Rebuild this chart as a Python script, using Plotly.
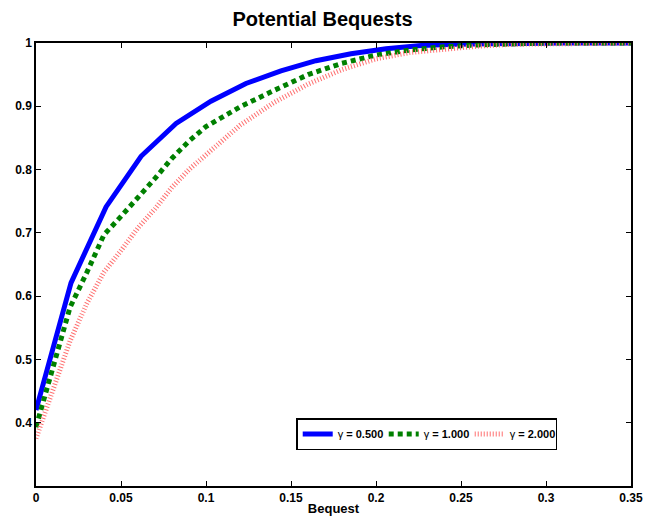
import plotly.graph_objects as go

# coarse grid used by the gamma = 0.5 curve
x_coarse = [0, 0.0206, 0.0412, 0.0618, 0.0824, 0.1029, 0.1235, 0.1441, 0.1647,
            0.1853, 0.2059, 0.2265, 0.2471, 0.2676, 0.2882, 0.3088, 0.3294, 0.35]
y_g05 = [0.42, 0.621, 0.741, 0.821, 0.873, 0.908, 0.936, 0.956, 0.972,
         0.983, 0.991, 0.996, 0.998, 0.999, 1.0, 1.0, 1.0, 1.0]

# finer grid for gamma = 1 and gamma = 2
x_fine = [0, 0.01, 0.02, 0.03, 0.04, 0.05, 0.06, 0.07, 0.08, 0.09, 0.10,
          0.12, 0.14, 0.16, 0.18, 0.20, 0.22, 0.24, 0.26, 0.28, 0.30, 0.35]
y_g10 = [0.393, 0.49, 0.582, 0.638, 0.697, 0.726, 0.755, 0.786, 0.818, 0.845, 0.868,
         0.899, 0.925, 0.950, 0.968, 0.981, 0.989, 0.994, 0.997, 0.999, 1.0, 1.0]
y_g20 = [0.375, 0.455, 0.529, 0.589, 0.638, 0.672, 0.708, 0.738, 0.772, 0.800, 0.823,
         0.870, 0.906, 0.935, 0.958, 0.975, 0.985, 0.991, 0.995, 0.998, 0.999, 1.0]

x_ticks = [0, 0.05, 0.1, 0.15, 0.2, 0.25, 0.3, 0.35]
x_labels = ["0", "0.05", "0.1", "0.15", "0.2", "0.25", "0.3", "0.35"]
y_ticks = [0.4, 0.5, 0.6, 0.7, 0.8, 0.9, 1.0]
y_labels = ["0.4", "0.5", "0.6", "0.7", "0.8", "0.9", "1"]

FONT = "Liberation Sans, Arial, Helvetica, sans-serif"

fig = go.Figure()

fig.add_trace(go.Scatter(
    x=x_coarse, y=y_g05, mode="lines", name="γ<b> = 0.500</b>",
    line=dict(color="#0000FF", width=5),
))
fig.add_trace(go.Scatter(
    x=x_fine, y=y_g10, mode="lines", name="γ<b> = 1.000</b>",
    line=dict(color="#008000", width=5, dash="5px,4px"),
))
fig.add_trace(go.Scatter(
    x=x_fine, y=y_g20, mode="lines", name="γ<b> = 2.000</b>",
    line=dict(color="#FF7070", width=5, dash="1px,2px"),
))

axis_common = dict(
    showgrid=False, zeroline=False, automargin=False,
    showline=True, linecolor="black", linewidth=1.5, mirror="ticks",
    ticks="inside", ticklen=5, tickcolor="black",
    tickfont=dict(family=FONT, size=12, color="black", weight="bold"),
)

fig.update_xaxes(
    range=[0, 0.35], tickvals=x_ticks, ticktext=x_labels,
    ticklabeloverflow="allow",
    title=dict(text="<b>Bequest</b>", font=dict(family=FONT, size=13, color="black"),
               standoff=0),
    **axis_common,
)
fig.update_yaxes(
    range=[0.3, 1.0], tickvals=y_ticks, ticktext=y_labels,
    **axis_common,
)

fig.update_layout(
    width=645, height=521,
    margin=dict(l=36, r=14, t=43, b=35),
    paper_bgcolor="white", plot_bgcolor="white",
    font=dict(family=FONT, color="black"),
    title=dict(text="<b>Potential Bequests</b>", x=0.5, xanchor="center",
               y=0.963, yanchor="middle",
               font=dict(family=FONT, size=20, color="black")),
    legend=dict(
        orientation="h", x=0.876, y=0.081, xanchor="right", yanchor="bottom",
        bgcolor="white", bordercolor="black", borderwidth=1.5,
        font=dict(family=FONT, size=11, color="black"),
        itemwidth=30, tracegroupgap=0,
        entrywidth=41, entrywidthmode="pixels",
    ),
)

# drop the default page margin/scrollbars so the figure fills the window exactly
fig.write_html(
    "out.html",
    config={"displayModeBar": False},
    post_script="document.body.style.margin='0';document.body.style.overflow='hidden';",
)
